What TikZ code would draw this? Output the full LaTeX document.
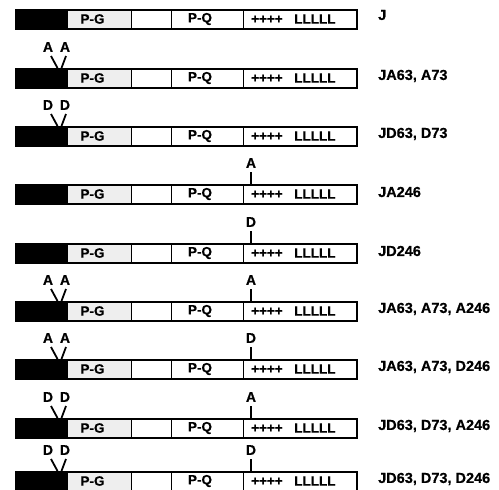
\documentclass[tikz,border=0pt]{standalone}
\usepackage{fontspec}
\setmainfont{Liberation Sans}[BoldFeatures={FakeBold=0.6}]
\tikzset{
  seg/.style={draw=black,line width=1.3pt,anchor=north west,inner sep=0pt,minimum height=19pt},
  outerbar/.style={draw=black,line width=1.9pt,anchor=north west,inner sep=0pt,minimum height=19pt,minimum width=341pt},
  intext/.style={font=\fontsize{13.5}{13.5}\selectfont\bfseries,inner sep=0pt},
  marktext/.style={font=\fontsize{14}{14}\selectfont\bfseries,inner sep=0pt},
  nametext/.style={font=\fontsize{14.5}{14.5}\selectfont\bfseries,inner sep=0pt,anchor=west},
  vstroke/.style={line width=1.8pt},
}
\newcommand\generow[6]{% #1 id, #2 top, #3 label, #4 pair letter, #5 single letter, #6 label y offset
  \node[seg,fill=black,minimum width=52pt] (r#1blk) at (15,#2) {};
  \node[seg,fill=gray!13,minimum width=64pt] (r#1pg) at (67,#2) {};
  \node[seg,fill=white,minimum width=40pt] (r#1gap) at (131,#2) {};
  \node[seg,fill=white,minimum width=72pt] (r#1pq) at (171,#2) {};
  \node[seg,fill=white,minimum width=113pt] (r#1tail) at (243,#2) {};
  \node[outerbar] (r#1bar) at (15,#2) {};
  \node[intext] (r#1pgt) at (92.5,#2+10) {P-G};
  \node[intext] (r#1pqt) at (200,#2+10) {P-Q};
  \node[intext,anchor=west] (r#1plus) at (251,#2+10.5) {++++};
  \node[intext,anchor=west] (r#1ls) at (294,#2+10) {LLLLL};
  \node[nametext] (r#1name) at (378,#2+#6) {#3};
  \if\relax\detokenize{#4}\relax\else
    \node[marktext] (r#1pa) at (48,#2-21) {#4};
    \node[marktext] (r#1pb) at (65,#2-21) {#4};
    \coordinate (r#1va) at (51,#2-12);
    \coordinate (r#1vb) at (57.5,#2);
    \coordinate (r#1vc) at (66,#2-12);
    \coordinate (r#1vd) at (61.5,#2);
    \draw[vstroke] (r#1va) -- (r#1vb);
    \draw[vstroke] (r#1vc) -- (r#1vd);
  \fi
  \if\relax\detokenize{#5}\relax\else
    \node[marktext] (r#1s) at (251,#2-21) {#5};
    \coordinate (r#1ta) at (251,#2-12);
    \coordinate (r#1tb) at (251,#2);
    \draw[vstroke] (r#1ta) -- (r#1tb);
  \fi
}
\begin{document}
\begin{tikzpicture}[x=1pt,y=-1pt]
\useasboundingbox (0,0) rectangle (499,490);
\generow{1}{9}{J}{}{}{6}
\generow{2}{68}{JA63, A73}{A}{}{8}
\generow{3}{126}{JD63, D73}{D}{}{8}
\generow{4}{184}{JA246}{}{A}{8}
\generow{5}{243}{JD246}{}{D}{8}
\generow{6}{301}{JA63, A73, A246}{A}{A}{8}
\generow{7}{359}{JA63, A73, D246}{A}{D}{8}
\generow{8}{418}{JD63, D73, A246}{D}{A}{8}
\generow{9}{471}{JD63, D73, D246}{D}{D}{8}
\end{tikzpicture}
\end{document}
